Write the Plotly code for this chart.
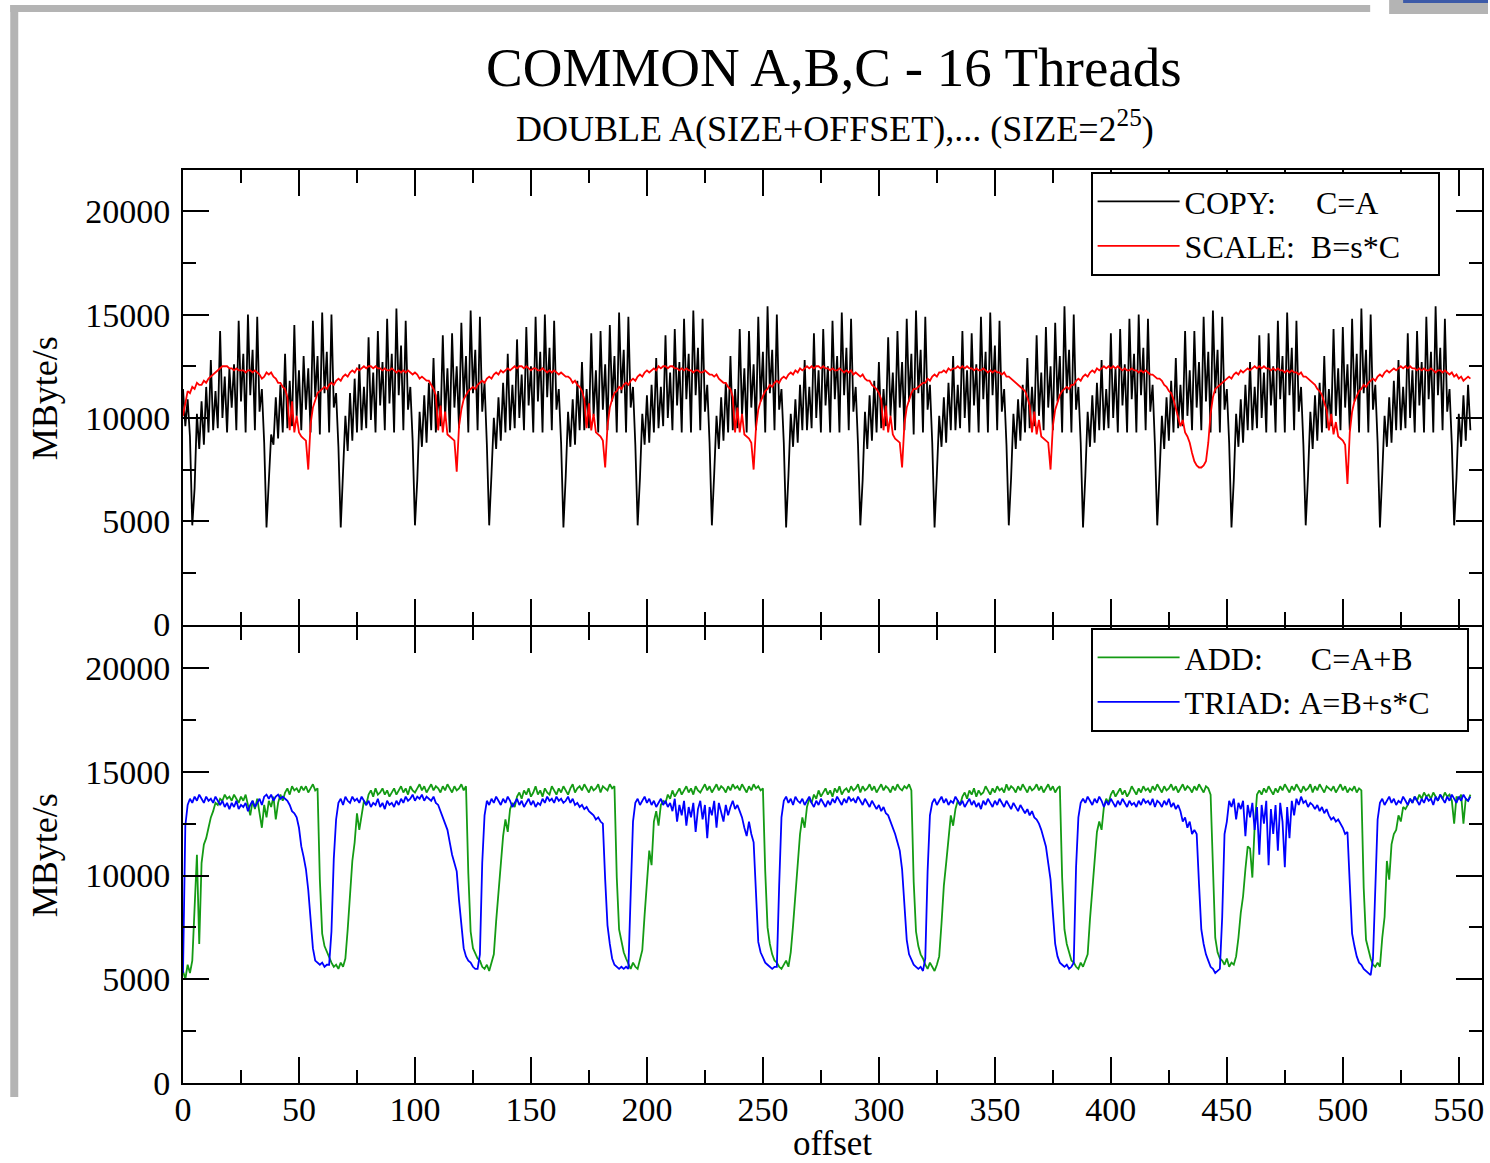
import plotly.graph_objects as go
from plotly.subplots import make_subplots

# ---------------- data (MByte/s per array offset) ----------------
COPY = [
    11400, 9600, 10900, 9100,
    4800, 6600, 10200, 8500, 10800, 8700, 11500, 9300, 12800, 9400, 11300, 9500, 14200, 10000, 12000, 9300,
    12400, 10500, 12600, 9400, 14700, 10800, 13100, 9300, 15000, 11100, 13300, 9400, 14900, 10300, 11400, 8800,
    4700, 6900, 9200, 8700, 11000, 9000, 11600, 9300, 13100, 9500, 11800, 9600, 14500, 10100, 12300, 9400,
    13000, 10400, 12400, 9300, 14700, 11000, 13000, 9200, 15100, 11200, 13200, 9300, 15000, 10500, 11200, 8600,
    4700, 7400, 10100, 8400, 11200, 8900, 11900, 9300, 12600, 9400, 11500, 9500, 13900, 9900, 12200, 9300,
    14200, 10600, 12700, 9400, 14800, 10700, 13100, 9300, 15300, 11100, 13500, 9400, 14700, 10400, 11500, 8900,
    4800, 7000, 10300, 8600, 11100, 8800, 11700, 9400, 12900, 9300, 11300, 9600, 14000, 10000, 12400, 9300,
    14100, 10500, 12500, 9500, 14600, 10900, 13000, 9300, 15200, 11200, 13300, 9400, 14900, 10300, 11700, 8700,
    4800, 7300, 10000, 8500, 11000, 8900, 11700, 9300, 13100, 9400, 11600, 9500, 13800, 10000, 12100, 9400,
    14400, 10600, 12500, 9300, 14900, 10800, 13200, 9300, 15000, 11000, 13400, 9400, 14700, 10400, 11400, 8800,
    4700, 7200, 10300, 8600, 10900, 8700, 11800, 9400, 12700, 9400, 11400, 9500, 14100, 10100, 12300, 9300,
    14200, 10400, 12600, 9400, 14500, 10800, 13000, 9300, 15100, 11200, 13300, 9300, 14900, 10500, 11500, 8700,
    4800, 7100, 10200, 8700, 11100, 8800, 11600, 9300, 12900, 9500, 11500, 9600, 14000, 10000, 12200, 9400,
    14300, 10600, 12700, 9300, 14800, 10900, 13100, 9300, 15200, 11100, 13400, 9400, 14800, 10300, 11600, 8800,
    4800, 7300, 10100, 8500, 11000, 8900, 11700, 9300, 13000, 9400, 11400, 9500, 14300, 10100, 12400, 9300,
    14200, 10500, 12600, 9400, 14900, 10800, 13200, 9300, 15400, 11200, 13300, 9400, 15000, 10400, 11400, 8800,
    4700, 7200, 10200, 8600, 10900, 8800, 11600, 9400, 12800, 9400, 11500, 9500, 14100, 10000, 12300, 9300,
    14300, 10600, 12500, 9300, 14700, 10900, 13000, 9300, 15100, 11100, 13400, 9400, 14800, 10300, 11500, 8700,
    4800, 7000, 10300, 8500, 11100, 8900, 11800, 9300, 12700, 9500, 11400, 9600, 13900, 10100, 12200, 9400,
    14200, 10500, 12700, 9400, 14800, 10800, 13100, 9200, 15200, 11200, 13300, 9300, 14900, 10400, 11600, 8800,
    4700, 7300, 10100, 8600, 11000, 8800, 11700, 9400, 13000, 9400, 11600, 9500, 14200, 10000, 12300, 9300,
    14100, 10600, 12600, 9300, 14900, 10900, 13200, 9300, 15100, 11100, 13500, 9400, 14700, 10300, 11400, 8700,
    4800, 7100, 10200, 8500, 10900, 8900, 11600, 9300, 12900, 9500, 11500, 9600, 14000, 10100, 12200, 9400,
    14400, 10500, 12500, 9400, 14600, 10800, 13000, 9300, 15400, 11200, 13300, 9300, 15000, 10400, 11500, 8800,
    4700, 7200, 10300, 8600, 11100, 8800, 11700, 9400, 12800, 9400, 11400, 9500, 14100, 10000, 12400, 9300,
    14300, 10600, 12600, 9300, 14800, 10900, 13100, 9300, 15000, 11100, 13400, 9400, 14800, 10300, 11600, 8700,
    4800, 7300, 10100, 8500, 11000, 8900, 11800, 9300, 12900, 9500, 11600, 9600, 14200, 10100, 12300, 9400,
    14200, 10500, 12700, 9400, 14900, 10800, 13200, 9300, 15200, 11200, 13300, 9300, 14900, 10400, 11400, 8800,
    4700, 7000, 10200, 8600, 10900, 8800, 11600, 9400, 12700, 9400, 11500, 9500, 14000, 10000, 12200, 9300,
    14100, 10600, 12500, 9300, 14700, 10900, 13000, 9300, 15100, 11100, 13400, 9400, 14700, 10300, 11500, 8700,
    4800, 7200, 10300, 8500, 11100, 8900, 11700, 9300, 13000, 9500, 11400, 9600, 14300, 10100, 12400, 9400,
    14400, 10500, 12600, 9400, 14800, 10800, 13100, 9300, 15300, 11200, 13300, 9300, 15000, 10400, 11600, 8800,
    4700, 7300, 10100, 8600, 11000, 8800, 11800, 9400, 12800, 9400, 11500, 9500, 14100, 10000, 12300, 9300,
    14200, 10600, 12700, 9300, 14900, 10900, 13200, 9300, 15400, 11100, 13400, 9400, 14800, 10300, 11400, 8700,
    4800, 7100, 10200, 8600, 11100, 8900, 11600, 9400,
]

SCALE = [
    10100, 10800, 11300, 11200, 11500, 11400, 11700, 11600, 11600, 11800, 11700, 11900, 12000, 12100, 12200, 12300,
    12400, 12500, 12500, 12500, 12400, 12400, 12300, 12400, 12300, 12300, 12300, 12200, 12300, 12300, 12200, 12300,
    12200, 12100, 11900, 12000, 12200, 12100, 12200, 12000, 11900, 11700, 11700, 11500, 11400, 11000, 9400, 10800,
    9300, 10100, 9300, 9100, 9000, 8900, 7500, 9700, 10500, 10900, 11200, 11300, 11400, 11500, 11400, 11600,
    11700, 11600, 11800, 11900, 11800, 12000, 12100, 12000, 12200, 12300, 12200, 12400, 12300, 12400, 12500, 12400,
    12500, 12500, 12400, 12500, 12400, 12400, 12300, 12400, 12300, 12300, 12400, 12300, 12200, 12300, 12200, 12300,
    12200, 12300, 12200, 12100, 12200, 12100, 11900, 12000, 11900, 11800, 11800, 11600, 11400, 11100, 9400, 10600,
    9300, 10300, 9200, 9100, 9000, 8900, 7400, 9600, 10400, 10900, 11100, 11300, 11400, 11500, 11400, 11600,
    11700, 11800, 11700, 11900, 12000, 11900, 12100, 12200, 12100, 12300, 12200, 12300, 12400, 12300, 12400, 12500,
    12400, 12500, 12500, 12400, 12500, 12400, 12300, 12400, 12400, 12300, 12300, 12400, 12300, 12200, 12300, 12200,
    12300, 12200, 12100, 12200, 12100, 12000, 12000, 11900, 11700, 11800, 11600, 11500, 11300, 10900, 9500, 10700,
    9400, 10200, 9300, 9200, 9100, 8900, 7600, 9600, 10500, 10900, 11200, 11300, 11500, 11400, 11600, 11700,
    11600, 11800, 11900, 11800, 12000, 12100, 12000, 12200, 12300, 12200, 12300, 12400, 12300, 12500, 12400, 12500,
    12500, 12400, 12500, 12500, 12400, 12400, 12300, 12400, 12300, 12400, 12300, 12300, 12200, 12300, 12300, 12200,
    12200, 12300, 12200, 12100, 12100, 12000, 12100, 11900, 11800, 11700, 11700, 11500, 11400, 11000, 9300, 10500,
    9300, 10200, 9200, 9100, 9000, 8800, 7500, 9500, 10400, 10800, 11100, 11300, 11400, 11600, 11500, 11700,
    11800, 11700, 11900, 12000, 11900, 12100, 12200, 12100, 12300, 12200, 12400, 12300, 12400, 12500, 12400, 12500,
    12400, 12500, 12500, 12400, 12500, 12400, 12400, 12300, 12400, 12300, 12300, 12400, 12300, 12200, 12300, 12200,
    12300, 12100, 12200, 12100, 12000, 12100, 11900, 11800, 11800, 11600, 11500, 11400, 11200, 10900, 9400, 10600,
    9300, 10100, 9200, 9000, 8900, 8800, 7600, 9700, 10500, 10900, 11200, 11400, 11400, 11500, 11600, 11700,
    11700, 11900, 11800, 12000, 12100, 12000, 12200, 12200, 12300, 12200, 12400, 12300, 12400, 12400, 12500, 12400,
    12500, 12400, 12500, 12400, 12400, 12300, 12400, 12300, 12300, 12400, 12300, 12200, 12300, 12200, 12300, 12200,
    12200, 12100, 12200, 12000, 12000, 11900, 11800, 11700, 11600, 11500, 11400, 11300, 11000, 10600, 9300, 10300,
    9200, 9900, 9100, 9000, 8900, 8800, 7500, 9600, 10400, 10800, 11100, 11300, 11400, 11500, 11400, 11600,
    11600, 11800, 11900, 11800, 12000, 12100, 12000, 12200, 12300, 12200, 12400, 12300, 12400, 12500, 12400, 12500,
    12400, 12500, 12400, 12500, 12400, 12300, 12400, 12300, 12300, 12400, 12300, 12300, 12200, 12300, 12200, 12300,
    12200, 12100, 12100, 12000, 11900, 11900, 11800, 11600, 11500, 11300, 11200, 10900, 10500, 10000, 9600, 9900,
    9300, 9100, 8800, 8300, 7900, 7700, 7600, 7600, 7700, 7900, 8800, 10200, 11000, 11400, 11500, 11600,
    11700, 11800, 11900, 12000, 11900, 12100, 12200, 12100, 12300, 12200, 12300, 12400, 12300, 12400, 12500, 12400,
    12500, 12400, 12500, 12400, 12400, 12300, 12400, 12300, 12400, 12300, 12300, 12200, 12300, 12200, 12300, 12200,
    12200, 12100, 12200, 12000, 12000, 11900, 11800, 11700, 11600, 11400, 11300, 11100, 10800, 10400, 9400, 10200,
    9200, 9800, 9100, 9000, 8900, 8700, 6800, 9300, 10300, 10800, 11100, 11300, 11400, 11600, 11500, 11700,
    11800, 11900, 11800, 12000, 12100, 12000, 12200, 12300, 12200, 12300, 12400, 12300, 12400, 12500, 12400, 12500,
    12400, 12500, 12400, 12400, 12300, 12400, 12300, 12400, 12300, 12300, 12400, 12300, 12200, 12300, 12300, 12200,
    12300, 12200, 12100, 12200, 12000, 12100, 11900, 12000, 11800, 11900, 12000, 11900,
]

ADD = [
    5400, 5000, 5700, 5300, 5900, 8400, 11000, 6700, 10600, 11500, 11800, 12300, 12800, 13100, 13500, 13400,
    13700, 13600, 13900, 13700, 13800, 13600, 13900, 13700, 13500, 13800, 13600, 13900, 13400, 12900, 13600, 13200,
    13700, 13000, 12300, 13400, 12800, 13600, 13300, 13800, 12700, 13500, 13900, 13600, 14000, 14200, 13900, 14300,
    14100, 14200, 14000, 14300, 14100, 14300, 14000, 14200, 14400, 14100, 14200, 9800, 7200, 6600, 6300, 6000,
    5800, 5600, 5700, 5500, 5800, 5600, 6000, 7400, 9000, 10700, 11600, 13000, 12200, 13000, 13600, 13400,
    13900, 14100, 13800, 14200, 13900, 14000, 14200, 13900, 14100, 13800, 14000, 14200, 13900, 14100, 14300, 14000,
    14200, 13900, 14300, 14100, 14000, 14200, 14400, 14100, 14300, 14000, 14200, 14400, 14100, 14300, 14200, 14000,
    14300, 14100, 14400, 14200, 14000, 14300, 14100, 14200, 14400, 14100, 14300, 10100, 7300, 6500, 6200, 6000,
    5900, 5600, 5500, 5700, 5400, 5800, 6200, 7800, 9300, 10400, 11900, 12700, 12100, 13200, 13500, 13300,
    13800, 14000, 13700, 14100, 13900, 14200, 13800, 14000, 14300, 13900, 14100, 13800, 14200, 14000, 13900, 14300,
    14100, 13900, 14200, 14000, 14300, 14100, 13900, 14200, 14400, 14000, 14200, 14300, 14100, 14400, 14200, 14000,
    14300, 14100, 14200, 14400, 14000, 14300, 14200, 14100, 14400, 14200, 14300, 9900, 7400, 6800, 6300, 6000,
    5700, 5500, 5800, 5600, 5500, 5900, 6400, 8100, 9700, 11200, 10500, 12600, 13100, 12400, 13400, 13600,
    13500, 13900, 13700, 14100, 13800, 14000, 14200, 13900, 14100, 14300, 14000, 14200, 13900, 14300, 14100, 14000,
    14200, 14400, 14100, 14300, 14000, 14200, 14400, 14100, 14300, 14200, 14000, 14300, 14100, 14400, 14200, 14300,
    14100, 14400, 14200, 14000, 14300, 14100, 14400, 14200, 14300, 14100, 14200, 10200, 7500, 6700, 6200, 5900,
    5800, 5600, 5500, 5700, 5900, 5600, 6300, 7600, 9200, 10900, 12000, 12800, 12300, 13300, 13700, 13500,
    13900, 13700, 14100, 13800, 14000, 14200, 13900, 14100, 13800, 14200, 14000, 14300, 13900, 14100, 14200, 14000,
    14300, 14100, 14200, 14400, 14000, 14300, 14100, 14200, 14400, 14100, 14300, 14000, 14200, 14400, 14100, 14300,
    14200, 14000, 14300, 14100, 14400, 14200, 14100, 14300, 14200, 14400, 14100, 9700, 7300, 6600, 6200, 6000,
    5700, 5500, 5800, 5600, 5400, 5700, 6100, 7700, 9500, 10600, 11800, 12900, 12400, 13200, 13600, 13400,
    13800, 14000, 13700, 14100, 13900, 14200, 13800, 14100, 13900, 14000, 14300, 14100, 13900, 14200, 14000, 14300,
    14100, 14200, 14000, 14400, 14100, 14300, 14200, 14000, 14300, 14100, 14400, 14200, 14000, 14300, 14100, 14200,
    14400, 14100, 14300, 14000, 14200, 14400, 14100, 14300, 14000, 14200, 14300, 9900, 7400, 6700, 6300, 5900,
    5800, 5600, 5500, 5800, 5600, 5900, 6200, 7900, 9400, 10800, 12100, 12600, 12200, 13300, 13700, 13500,
    13900, 14100, 13800, 14000, 14200, 13900, 14100, 13800, 14000, 14300, 14100, 13900, 14200, 14000, 14300, 14100,
    14200, 14000, 14300, 14100, 14400, 14200, 14000, 14300, 14100, 14200, 14400, 14100, 14300, 14000, 14200, 14400,
    14100, 14300, 14200, 14000, 14300, 14100, 14400, 14200, 14000, 14300, 14200, 13900, 10200, 7000, 6300, 6000,
    5900, 5700, 6000, 5600, 5800, 5700, 6100, 7000, 8200, 9000, 10300, 11400, 11300, 9900, 12400, 13900,
    14100, 13900, 14200, 14000, 14300, 14100, 13900, 14200, 14000, 14300, 14100, 14400, 14200, 14000, 14300, 14100,
    14400, 14200, 14000, 14300, 14100, 14200, 14400, 14000, 14300, 14100, 14400, 14200, 14000, 14300, 14200, 14100,
    14300, 14000, 14200, 14400, 14100, 14300, 14000, 14200, 14100, 14300, 14000, 14200, 14100, 9400, 6900, 6400,
    6000, 5700, 5600, 5800, 5600, 7000, 8000, 10700, 9800, 11500, 12000, 12200, 12900, 12600, 13300, 13200,
    13400, 13700, 13500, 13800, 13600, 13900, 13700, 14000, 13800, 13900, 13700, 14000, 13800, 13600, 13900, 13700,
    14000, 13800, 13900, 13600, 12500, 13800, 13700, 13900, 12500, 13700, 13600, 13900,
]

TRIAD = [
    5300, 12400, 13400, 13700, 13500, 13800, 13600, 13900, 13700, 13500, 13800, 13600, 13700, 13500, 13800, 13600,
    13400, 13600, 13300, 13500, 13200, 13500, 13300, 13600, 13200, 13400, 13300, 13500, 13100, 13400, 13600, 13300,
    13500, 13700, 13400, 13800, 13900, 13700, 13900, 13600, 13800, 13900, 13700, 13800, 13700, 13600, 13400, 13100,
    13000, 12800, 12300, 11400, 10900, 10300, 9300, 8000, 6500, 5900, 5800, 5700, 5800, 5600, 5700, 5700,
    7300, 10800, 12700, 13500, 13700, 13400, 13800, 13600, 13500, 13800, 13600, 13700, 13500, 13800, 13600, 13400,
    13600, 13300, 13500, 13400, 13700, 13300, 13500, 13200, 13600, 13400, 13500, 13300, 13600, 13400, 13700, 13500,
    13800, 13600, 13700, 13900, 13600, 13800, 13700, 13900, 13600, 13800, 13700, 13600, 13800, 13500, 13400, 13100,
    12800, 12600, 12200, 11600, 11000, 10600, 10200, 8800, 7500, 6500, 6100, 5900, 5800, 5600, 5500, 5500,
    6200, 10600, 12900, 13600, 13400, 13700, 13500, 13800, 13600, 13400, 13700, 13500, 13800, 13600, 13300, 13500,
    13700, 13400, 13600, 13300, 13500, 13700, 13400, 13600, 13300, 13500, 13400, 13700, 13500, 13800, 13600, 13700,
    13500, 13800, 13600, 13700, 13500, 13600, 13800, 13500, 13700, 13400, 13500, 13300, 13400, 13200, 13300, 13100,
    13000, 12900, 12700, 12800, 12600, 12500, 9800, 7600, 6700, 6000, 5700, 5600, 5500, 5600, 5500, 5600,
    5500, 9100, 12600, 13500, 13700, 13400, 13600, 13800, 13500, 13700, 13400, 13600, 13300, 13500, 13700, 13400,
    13600, 13300, 13500, 13100, 13700, 12600, 13400, 12900, 13600, 12400, 13300, 12800, 13500, 12100, 13200, 13600,
    12700, 13400, 11800, 13300, 12900, 13600, 12300, 13500, 13100, 12600, 13400, 12900, 13300, 13600, 13200, 13400,
    13100, 12800, 12300, 11900, 12600, 12000, 11600, 8800, 6800, 6300, 6000, 5800, 5700, 5600, 5500, 5600,
    5600, 9500, 12800, 13600, 13800, 13500, 13700, 13400, 13800, 13600, 13500, 13700, 13400, 13600, 13800, 13500,
    13300, 13600, 13400, 13700, 13500, 13300, 13600, 13400, 13700, 13500, 13800, 13600, 13400, 13700, 13500, 13800,
    13600, 13700, 13500, 13800, 13600, 13400, 13700, 13500, 13300, 13600, 13400, 13200, 13400, 13100, 13300, 13000,
    12900, 12600, 12400, 12000, 11600, 11200, 10300, 8400, 6900, 6200, 5900, 5700, 5600, 5500, 5600, 5400,
    6000, 10200, 12900, 13500, 13700, 13400, 13600, 13800, 13500, 13700, 13400, 13600, 13500, 13800, 13600, 13400,
    13600, 13300, 13500, 13700, 13400, 13600, 13300, 13500, 13200, 13600, 13400, 13700, 13500, 13300, 13600, 13400,
    13700, 13500, 13300, 13600, 13400, 13200, 13500, 13300, 13100, 13400, 13200, 13000, 13200, 12900, 13100, 12800,
    12700, 12500, 12200, 11800, 11400, 10600, 9800, 8200, 6700, 6100, 5800, 5700, 5600, 5700, 5500, 5600,
    5800, 10400, 12800, 13500, 13700, 13500, 13800, 13600, 13400, 13700, 13500, 13800, 13600, 13300, 13600, 13400,
    13700, 13500, 13300, 13600, 13400, 13700, 13500, 13300, 13600, 13400, 13500, 13300, 13600, 13400, 13700, 13500,
    13600, 13400, 13700, 13300, 13600, 13500, 13300, 13600, 13400, 13700, 13300, 13500, 13200, 13400, 13100, 12600,
    12800, 12300, 12600, 12000, 12200, 12000, 9600, 7400, 6700, 6200, 5900, 5600, 5500, 5300, 5400, 5500,
    8000, 12000, 12600, 13600, 13300, 13700, 12700, 13500, 13200, 13600, 11900, 13400, 12800, 13500, 12200, 13300,
    11000, 13400, 12500, 13600, 10500, 13200, 12000, 13400, 11200, 13500, 12600, 10400, 13300, 11800, 13600, 12900,
    13700, 13400, 13800, 13500, 13600, 13300, 13500, 13400, 13200, 13400, 13100, 13300, 13000, 13200, 12900, 12700,
    12800, 12600, 12700, 12500, 12300, 12000, 12100, 9600, 7200, 6600, 6100, 5800, 5700, 5500, 5400, 5300,
    5200, 6000, 9500, 12700, 13500, 13700, 13400, 13600, 13800, 13500, 13700, 13400, 13600, 13500, 13800, 13600,
    13400, 13700, 13500, 13800, 13600, 13400, 13700, 13500, 13800, 13600, 13700, 13400, 13800, 13600, 13900, 13700,
    13500, 13800, 13600, 13900, 13700, 13500, 13800, 13600, 13900, 13700, 13600, 13800,
]

Y_TICKS = [0, 5000, 10000, 15000, 20000]
X_TICKS = list(range(0, 551, 50))

TITLE = "COMMON A,B,C - 16 Threads"
SUBTITLE = "DOUBLE A(SIZE+OFFSET),... (SIZE=2<sup>25</sup>)"

# ---------------- figure ----------------
W, H = 1490, 1163
ML, MR, MT, MB = 183, 6, 170, 80
PW, PH = W - ML - MR, H - MT - MB


def px(xp):
    return (xp - ML) / PW


def py(yp):
    return (H - MB - yp) / PH


FONT = "Liberation Serif"
GREEN = "rgb(20,155,20)"
LW = 2  # axis line width
NB = "\u00a0"

fig = make_subplots(rows=2, cols=1, shared_xaxes=False, vertical_spacing=0)

fig.add_trace(go.Scatter(x=list(range(len(COPY))), y=COPY, mode="lines",
                         line=dict(color="black", width=1.8),
                         name="COPY:" + NB * 5 + "C=A", legend="legend"), row=1, col=1)
fig.add_trace(go.Scatter(x=list(range(len(SCALE))), y=SCALE, mode="lines",
                         line=dict(color="#ff0000", width=1.8),
                         name="SCALE:" + NB * 2 + "B=s*C" + NB * 4, legend="legend"), row=1, col=1)
fig.add_trace(go.Scatter(x=list(range(len(ADD))), y=ADD, mode="lines",
                         line=dict(color=GREEN, width=1.8),
                         name="ADD:" + NB * 6 + "C=A+B", legend="legend2"), row=2, col=1)
fig.add_trace(go.Scatter(x=list(range(len(TRIAD))), y=TRIAD, mode="lines",
                         line=dict(color="#0000ff", width=1.8),
                         name="TRIAD:" + NB + "A=B+s*C" + NB * 4, legend="legend2"), row=2, col=1)

axis_common = dict(
    showline=True, linecolor="black", linewidth=LW, mirror="ticks",
    ticks="inside", ticklen=26, tickwidth=2, tickcolor="black",
    showgrid=False, zeroline=False,
    tickfont=dict(family=FONT, size=34, color="black"),
)

fig.update_xaxes(**axis_common, range=[0, 560], tickvals=X_TICKS,
                 minor=dict(ticks="inside", ticklen=13, tickwidth=2, tickcolor="black", dtick=25, tick0=0))
fig.update_xaxes(showticklabels=False, row=1, col=1)
fig.update_xaxes(ticklabelstandoff=-5, row=2, col=1)
fig.update_yaxes(**axis_common, range=[0, 22000], tickvals=Y_TICKS, tickformat="d",
                 minor=dict(ticks="inside", ticklen=13, tickwidth=2, tickcolor="black", dtick=2500, tick0=0),
                 ticklabelstandoff=4)

# make the top panel's bottom line coincide with the lower panel's top line
d = LW / PH
fig.update_yaxes(domain=[0.5 + d, 1.0], row=1, col=1)
fig.update_yaxes(domain=[0.0, 0.5], row=2, col=1)

legend_common = dict(
    xanchor="left", yanchor="top", bgcolor="white", bordercolor="black", borderwidth=2,
    font=dict(family=FONT, size=32, color="black"), tracegroupgap=0, itemwidth=82,
)

fig.update_layout(
    width=W, height=H,
    margin=dict(l=ML, r=MR, t=MT, b=MB),
    paper_bgcolor="white", plot_bgcolor="white",
    showlegend=True,
    legend=dict(**legend_common, x=px(1092), y=py(172)),
    legend2=dict(**legend_common, x=px(1092), y=py(628)),
    font=dict(family=FONT, color="black"),
)

annotations = [
    dict(text=TITLE, x=px(835), y=py(67), font=dict(family=FONT, size=55, color="black")),
    dict(text=SUBTITLE, x=px(836), y=py(126), font=dict(family=FONT, size=36, color="black")),
    dict(text="MByte/s", x=px(45), y=py(398), textangle=-90, font=dict(family=FONT, size=36, color="black")),
    dict(text="MByte/s", x=px(45), y=py(855), textangle=-90, font=dict(family=FONT, size=36, color="black")),
    dict(text="offset", x=px(833), y=py(1143), font=dict(family=FONT, size=35, color="black")),
]
for a in annotations:
    fig.add_annotation(xref="paper", yref="paper", showarrow=False,
                       xanchor="center", yanchor="middle", **a)

# window frame decoration around the screenshot
shapes = [
    dict(x0=px(10), x1=px(1372), y0=py(5), y1=py(12), fillcolor="#b4b4b4"),
    dict(x0=px(10), x1=px(18), y0=py(5), y1=py(1097), fillcolor="#b4b4b4"),
    dict(x0=px(1391), x1=px(1490), y0=py(0), y1=py(14), fillcolor="#b4b4b4"),
    dict(x0=px(1405), x1=px(1490), y0=py(0), y1=py(3), fillcolor="#3c5aa8"),
]
for s in shapes:
    fig.add_shape(type="rect", xref="paper", yref="paper", line=dict(width=0), layer="below", **s)

fig.write_html("out.html")
